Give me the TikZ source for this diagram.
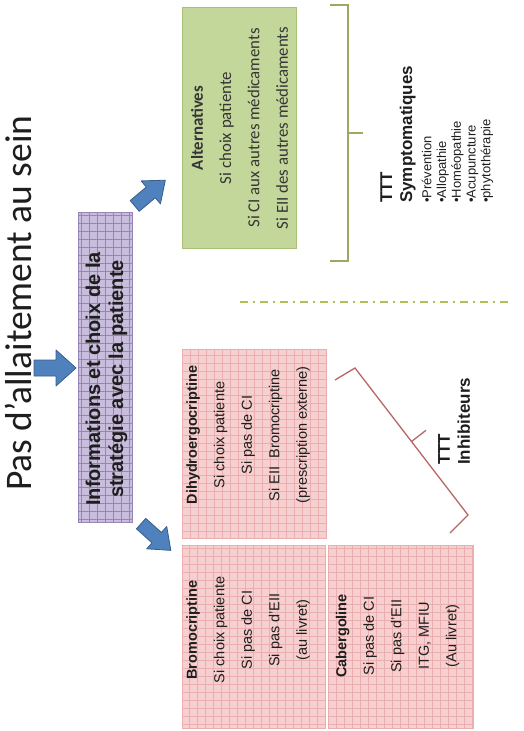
\documentclass[tikz,border=0pt]{standalone}
\usepackage{fontspec}
\setmainfont{Liberation Sans}
\newfontfamily\calib{Carlito}
\definecolor{pinkfill}{HTML}{F6D0D0}
\definecolor{pinkline}{HTML}{EAAEAE}
\definecolor{purpfill}{HTML}{C9BDDD}
\definecolor{purpline}{HTML}{9586B6}
\definecolor{greenfill}{HTML}{C4D79B}
\definecolor{greenline}{HTML}{A8BF78}
\definecolor{arrowblue}{HTML}{4F81BD}
\definecolor{arrowdark}{HTML}{385D8A}
\definecolor{bracegreen}{HTML}{9AAA62}
\definecolor{bracered}{HTML}{B86666}
\definecolor{dashcol}{HTML}{B3BF55}
\definecolor{txt}{HTML}{1E1E1E}
\begin{document}
\begin{tikzpicture}[x=1pt,y=-1pt,
  pinkbox/.style={draw=pinkline, fill=pinkfill, line width=0.6pt, inner sep=0pt,
    path picture={\draw[pinkline, line width=0.45pt] (path picture bounding box.south west) grid[step=8pt] (path picture bounding box.north east);}},
  purpbox/.style={draw=purpline, fill=purpfill, line width=0.6pt, inner sep=0pt,
    path picture={\draw[purpline, line width=0.45pt] (path picture bounding box.south west) grid[step=8pt] (path picture bounding box.north east);}},
  greenbox/.style={draw=greenline, fill=greenfill, line width=0.8pt, inner sep=0pt},
  pinktext/.style={rotate=90, align=center, inner sep=0pt, text=txt, font=\fontsize{14.5pt}{27.5pt}\selectfont},
  alttext/.style={rotate=90, align=center, inner sep=0pt, text=txt!90, font=\calib\fontsize{16.8pt}{28.3pt}\selectfont},
  infotext/.style={rotate=90, align=center, inner sep=0pt, text=txt, font=\bfseries\fontsize{20pt}{23pt}\selectfont},
  titletext/.style={rotate=90, inner sep=0pt, text=txt, font=\calib\fontsize{37.5pt}{40pt}\selectfont},
  ttttext/.style={rotate=90, align=left, inner sep=0pt, anchor=west, text=txt, font=\bfseries\fontsize{17pt}{20pt}\selectfont},
  listtext/.style={rotate=90, align=left, inner sep=0pt, anchor=west, text=txt, font=\fontsize{13pt}{14.75pt}\selectfont},
  blockarrow/.style={fill=arrowblue, draw=arrowdark, line width=0.8pt, line join=round},
  gbrace/.style={draw=bracegreen, line width=1.3pt},
  rbrace/.style={draw=bracered, line width=1.3pt},
  dashdotline/.style={draw=dashcol, line width=2pt, dash pattern=on 8pt off 5pt on 2pt off 5pt}
]
\useasboundingbox (0,0) rectangle (524,731);

% title
\node[titletext] (title) at (18,303) {Pas d’allaitement au sein};

% arrow title -> info
\begin{scope}[shift={(34,368)}]
  \draw[blockarrow] (0,-8) -- (22,-8) -- (22,-18) -- (42,0) -- (22,18) -- (22,8) -- (0,8) -- cycle;
\end{scope}

% info box
\node[purpbox, minimum width=54pt, minimum height=310pt] (info) at (105,367) {};
\node[infotext] (infot) at (106.5,379) {Informations et choix de la\\stratégie avec la patiente};

% arrows to the two branches
\begin{scope}[shift={(134.7,205.9)}, rotate=40]
  \draw[blockarrow] (0,-7) -- (21,-7) -- (21,-15) -- (40,0) -- (21,15) -- (21,7) -- (0,7) -- cycle;
\end{scope}
\begin{scope}[shift={(141.1,523.6)}, rotate=-42]
  \draw[blockarrow] (0,-7) -- (21,-7) -- (21,-15) -- (40,0) -- (21,15) -- (21,7) -- (0,7) -- cycle;
\end{scope}

% alternatives
\node[greenbox, minimum width=114pt, minimum height=241pt] (alt) at (239,127.5) {};
\node[alttext] (altt) at (239.5,128) {\textbf{Alternatives}\\Si choix patiente\\Si CI aux autres médicaments\\Si EII des autres médicaments};

% green brace
\draw[gbrace] (330,5) -- (348,5) -- (348,261) -- (330,261);
\draw[gbrace] (348,133) -- (363,133);

% TTT symptomatiques
\node[ttttext] (tttsym) at (398,203) {TTT\\Symptomatiques};
\node[listtext] (symlist) at (457.5,203) {•Prévention\\•Allopathie\\•Homéopathie\\•Acupuncture\\•phytothérapie};

% dash-dot separator
\coordinate (sep1) at (240,302);
\coordinate (sep2) at (508,302);
\draw[dashdotline] (sep1) -- (sep2);

% inhibitors
\node[pinkbox, minimum width=144pt, minimum height=189pt] (dhe) at (254,443.5) {};
\node[pinktext] (dhet) at (248,435) {\textbf{Dihydroergocriptine}\\Si choix patiente\\Si pas de CI\\Si EII~ Bromocriptine\\(prescription externe)};
\node[pinkbox, minimum width=143pt, minimum height=183pt] (bro) at (253.5,636.5) {};
\node[pinktext] (brot) at (248,630) {\textbf{Bromocriptine}\\Si choix patiente\\Si pas de CI\\Si pas d’EII\\(au livret)};
\node[pinkbox, minimum width=145pt, minimum height=183pt] (cab) at (400.5,636.5) {};
\node[pinktext] (cabt) at (397.5,636) {\textbf{Cabergoline}\\Si pas de CI\\Si pas d’EII\\ITG, MFIU\\(Au livret)};

% red brace
\draw[rbrace] (335,380) -- (355,368) -- (468,515) -- (450,533);
\draw[rbrace] (411.5,441.5) -- (426,430.3);

% TTT inhibiteurs
\node[ttttext] (tttinh) at (454,465) {TTT\\Inhibiteurs};
\end{tikzpicture}
\end{document}
